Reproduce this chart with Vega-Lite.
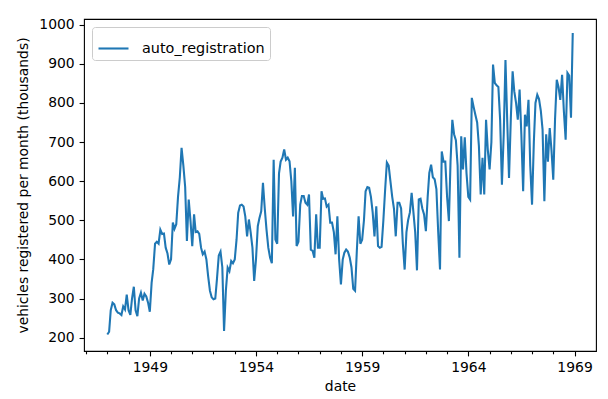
{
  "$schema": "https://vega.github.io/schema/vega-lite/v6.json",
  "autosize": "none",
  "width": 512,
  "height": 332,
  "padding": {"left": 84, "top": 19, "right": 12, "bottom": 48},
  "background": "white",
  "config": {
    "font": "DejaVu Sans",
    "view": {"stroke": "#000000", "strokeWidth": 1.1},
    "axis": {"labelColor": "#000000", "tickColor": "#000000", "titleColor": "#000000", "labelFontSize": 13.9, "titleFontSize": 13.9, "titleFontWeight": "normal", "grid": false, "domain": false, "tickWidth": 1.1}
  },
  "data": {"values": [
    {"date":"1947-01-01","value":208},{"date":"1947-02-01","value":215},{"date":"1947-03-01","value":270},{"date":"1947-04-01","value":289},{"date":"1947-05-01","value":285},{"date":"1947-06-01","value":270},{"date":"1947-07-01","value":264},{"date":"1947-08-01","value":262},{"date":"1947-09-01","value":258},{"date":"1947-10-01","value":280},{"date":"1947-11-01","value":272},{"date":"1947-12-01","value":310},
    {"date":"1948-01-01","value":270},{"date":"1948-02-01","value":258},{"date":"1948-03-01","value":300},{"date":"1948-04-01","value":330},{"date":"1948-05-01","value":270},{"date":"1948-06-01","value":255},{"date":"1948-07-01","value":300},{"date":"1948-08-01","value":315},{"date":"1948-09-01","value":295},{"date":"1948-10-01","value":312},{"date":"1948-11-01","value":305},{"date":"1948-12-01","value":290},
    {"date":"1949-01-01","value":266},{"date":"1949-02-01","value":340},{"date":"1949-03-01","value":375},{"date":"1949-04-01","value":440},{"date":"1949-05-01","value":445},{"date":"1949-06-01","value":440},{"date":"1949-07-01","value":476},{"date":"1949-08-01","value":465},{"date":"1949-09-01","value":466},{"date":"1949-10-01","value":430},{"date":"1949-11-01","value":415},{"date":"1949-12-01","value":387},
    {"date":"1950-01-01","value":400},{"date":"1950-02-01","value":494},{"date":"1950-03-01","value":478},{"date":"1950-04-01","value":490},{"date":"1950-05-01","value":560},{"date":"1950-06-01","value":610},{"date":"1950-07-01","value":685},{"date":"1950-08-01","value":640},{"date":"1950-09-01","value":585},{"date":"1950-10-01","value":447},{"date":"1950-11-01","value":553},{"date":"1950-12-01","value":500},
    {"date":"1951-01-01","value":434},{"date":"1951-02-01","value":515},{"date":"1951-03-01","value":470},{"date":"1951-04-01","value":472},{"date":"1951-05-01","value":465},{"date":"1951-06-01","value":430},{"date":"1951-07-01","value":413},{"date":"1951-08-01","value":420},{"date":"1951-09-01","value":400},{"date":"1951-10-01","value":357},{"date":"1951-11-01","value":320},{"date":"1951-12-01","value":303},
    {"date":"1952-01-01","value":298},{"date":"1952-02-01","value":300},{"date":"1952-03-01","value":350},{"date":"1952-04-01","value":410},{"date":"1952-05-01","value":420},{"date":"1952-06-01","value":380},{"date":"1952-07-01","value":217},{"date":"1952-08-01","value":320},{"date":"1952-09-01","value":379},{"date":"1952-10-01","value":370},{"date":"1952-11-01","value":396},{"date":"1952-12-01","value":390},
    {"date":"1953-01-01","value":400},{"date":"1953-02-01","value":451},{"date":"1953-03-01","value":519},{"date":"1953-04-01","value":538},{"date":"1953-05-01","value":540},{"date":"1953-06-01","value":535},{"date":"1953-07-01","value":510},{"date":"1953-08-01","value":459},{"date":"1953-09-01","value":502},{"date":"1953-10-01","value":470},{"date":"1953-11-01","value":430},{"date":"1953-12-01","value":345},
    {"date":"1954-01-01","value":400},{"date":"1954-02-01","value":485},{"date":"1954-03-01","value":505},{"date":"1954-04-01","value":523},{"date":"1954-05-01","value":596},{"date":"1954-06-01","value":530},{"date":"1954-07-01","value":476},{"date":"1954-08-01","value":430},{"date":"1954-09-01","value":404},{"date":"1954-10-01","value":390},{"date":"1954-11-01","value":655},{"date":"1954-12-01","value":451},
    {"date":"1955-01-01","value":440},{"date":"1955-02-01","value":620},{"date":"1955-03-01","value":650},{"date":"1955-04-01","value":660},{"date":"1955-05-01","value":681},{"date":"1955-06-01","value":655},{"date":"1955-07-01","value":660},{"date":"1955-08-01","value":651},{"date":"1955-09-01","value":600},{"date":"1955-10-01","value":510},{"date":"1955-11-01","value":634},{"date":"1955-12-01","value":434},
    {"date":"1956-01-01","value":445},{"date":"1956-02-01","value":540},{"date":"1956-03-01","value":562},{"date":"1956-04-01","value":562},{"date":"1956-05-01","value":545},{"date":"1956-06-01","value":540},{"date":"1956-07-01","value":566},{"date":"1956-08-01","value":425},{"date":"1956-09-01","value":422},{"date":"1956-10-01","value":404},{"date":"1956-11-01","value":515},{"date":"1956-12-01","value":430},
    {"date":"1957-01-01","value":430},{"date":"1957-02-01","value":574},{"date":"1957-03-01","value":555},{"date":"1957-04-01","value":556},{"date":"1957-05-01","value":535},{"date":"1957-06-01","value":540},{"date":"1957-07-01","value":494},{"date":"1957-08-01","value":494},{"date":"1957-09-01","value":470},{"date":"1957-10-01","value":413},{"date":"1957-11-01","value":510},{"date":"1957-12-01","value":400},
    {"date":"1958-01-01","value":336},{"date":"1958-02-01","value":400},{"date":"1958-03-01","value":417},{"date":"1958-04-01","value":425},{"date":"1958-05-01","value":420},{"date":"1958-06-01","value":405},{"date":"1958-07-01","value":380},{"date":"1958-08-01","value":325},{"date":"1958-09-01","value":320},{"date":"1958-10-01","value":420},{"date":"1958-11-01","value":510},{"date":"1958-12-01","value":440},
    {"date":"1959-01-01","value":450},{"date":"1959-02-01","value":500},{"date":"1959-03-01","value":574},{"date":"1959-04-01","value":585},{"date":"1959-05-01","value":583},{"date":"1959-06-01","value":560},{"date":"1959-07-01","value":520},{"date":"1959-08-01","value":459},{"date":"1959-09-01","value":536},{"date":"1959-10-01","value":434},{"date":"1959-11-01","value":430},{"date":"1959-12-01","value":432},
    {"date":"1960-01-01","value":500},{"date":"1960-02-01","value":580},{"date":"1960-03-01","value":648},{"date":"1960-04-01","value":640},{"date":"1960-05-01","value":600},{"date":"1960-06-01","value":560},{"date":"1960-07-01","value":530},{"date":"1960-08-01","value":459},{"date":"1960-09-01","value":545},{"date":"1960-10-01","value":545},{"date":"1960-11-01","value":530},{"date":"1960-12-01","value":440},
    {"date":"1961-01-01","value":374},{"date":"1961-02-01","value":470},{"date":"1961-03-01","value":500},{"date":"1961-04-01","value":520},{"date":"1961-05-01","value":570},{"date":"1961-06-01","value":520},{"date":"1961-07-01","value":470},{"date":"1961-08-01","value":372},{"date":"1961-09-01","value":553},{"date":"1961-10-01","value":555},{"date":"1961-11-01","value":530},{"date":"1961-12-01","value":515},
    {"date":"1962-01-01","value":472},{"date":"1962-02-01","value":560},{"date":"1962-03-01","value":621},{"date":"1962-04-01","value":642},{"date":"1962-05-01","value":610},{"date":"1962-06-01","value":605},{"date":"1962-07-01","value":580},{"date":"1962-08-01","value":470},{"date":"1962-09-01","value":374},{"date":"1962-10-01","value":676},{"date":"1962-11-01","value":650},{"date":"1962-12-01","value":650},
    {"date":"1963-01-01","value":560},{"date":"1963-02-01","value":498},{"date":"1963-03-01","value":650},{"date":"1963-04-01","value":757},{"date":"1963-05-01","value":720},{"date":"1963-06-01","value":705},{"date":"1963-07-01","value":640},{"date":"1963-08-01","value":404},{"date":"1963-09-01","value":715},{"date":"1963-10-01","value":630},{"date":"1963-11-01","value":712},{"date":"1963-12-01","value":620},
    {"date":"1964-01-01","value":560},{"date":"1964-02-01","value":553},{"date":"1964-03-01","value":813},{"date":"1964-04-01","value":790},{"date":"1964-05-01","value":770},{"date":"1964-06-01","value":750},{"date":"1964-07-01","value":690},{"date":"1964-08-01","value":566},{"date":"1964-09-01","value":660},{"date":"1964-10-01","value":566},{"date":"1964-11-01","value":757},{"date":"1964-12-01","value":680},
    {"date":"1965-01-01","value":630},{"date":"1965-02-01","value":700},{"date":"1965-03-01","value":898},{"date":"1965-04-01","value":851},{"date":"1965-05-01","value":845},{"date":"1965-06-01","value":841},{"date":"1965-07-01","value":757},{"date":"1965-08-01","value":591},{"date":"1965-09-01","value":720},{"date":"1965-10-01","value":910},{"date":"1965-11-01","value":750},{"date":"1965-12-01","value":608},
    {"date":"1966-01-01","value":760},{"date":"1966-02-01","value":881},{"date":"1966-03-01","value":830},{"date":"1966-04-01","value":800},{"date":"1966-05-01","value":757},{"date":"1966-06-01","value":834},{"date":"1966-07-01","value":720},{"date":"1966-08-01","value":574},{"date":"1966-09-01","value":770},{"date":"1966-10-01","value":740},{"date":"1966-11-01","value":808},{"date":"1966-12-01","value":640},
    {"date":"1967-01-01","value":540},{"date":"1967-02-01","value":700},{"date":"1967-03-01","value":800},{"date":"1967-04-01","value":821},{"date":"1967-05-01","value":810},{"date":"1967-06-01","value":780},{"date":"1967-07-01","value":732},{"date":"1967-08-01","value":549},{"date":"1967-09-01","value":720},{"date":"1967-10-01","value":650},{"date":"1967-11-01","value":736},{"date":"1967-12-01","value":680},
    {"date":"1968-01-01","value":604},{"date":"1968-02-01","value":760},{"date":"1968-03-01","value":859},{"date":"1968-04-01","value":840},{"date":"1968-05-01","value":808},{"date":"1968-06-01","value":872},{"date":"1968-07-01","value":780},{"date":"1968-08-01","value":706},{"date":"1968-09-01","value":877},{"date":"1968-10-01","value":870},{"date":"1968-11-01","value":762},{"date":"1968-12-01","value":979}
  ]},
  "mark": {"type": "line", "strokeWidth": 2.08, "clip": true},
  "encoding": {
    "x": {
      "field": "date", "type": "temporal",
      "scale": {"type": "utc", "domain": [{"year": 1945, "month": 11, "date": 26, "utc": true}, {"year": 1970, "month": 1, "date": 5, "utc": true}], "nice": false},
      "axis": {
        "title": "date",
        "values": [
          {"year":1946,"utc":true},{"year":1947,"utc":true},{"year":1948,"utc":true},{"year":1949,"utc":true},{"year":1950,"utc":true},{"year":1951,"utc":true},{"year":1952,"utc":true},{"year":1953,"utc":true},{"year":1954,"utc":true},{"year":1955,"utc":true},{"year":1956,"utc":true},{"year":1957,"utc":true},{"year":1958,"utc":true},{"year":1959,"utc":true},{"year":1960,"utc":true},{"year":1961,"utc":true},{"year":1962,"utc":true},{"year":1963,"utc":true},{"year":1964,"utc":true},{"year":1965,"utc":true},{"year":1966,"utc":true},{"year":1967,"utc":true},{"year":1968,"utc":true},{"year":1969,"utc":true}
        ],
        "labelExpr": "utcyear(datum.value) % 5 == 4 ? utcFormat(datum.value, '%Y') : ''",
        "labelOverlap": false,
        "tickSize": {"condition": {"test": "utcyear(datum.value) % 5 == 4", "value": 4.9}, "value": 2.8},
        "labelPadding": 4.9,
        "titlePadding": 5
      }
    },
    "y": {
      "field": "value", "type": "quantitative",
      "scale": {"domain": [165.8, 1014.6], "nice": false, "zero": false},
      "axis": {
        "title": "vehicles registered per month (thousands)",
        "values": [200, 300, 400, 500, 600, 700, 800, 900, 1000],
        "format": "d",
        "tickSize": 4.9,
        "labelPadding": 4.9,
        "titlePadding": 8
      }
    },
    "color": {
      "datum": "auto_registration",
      "scale": {"range": ["#1f77b4"]},
      "legend": {
        "title": null,
        "orient": "top-left",
        "offset": 8,
        "strokeColor": "#cccccc",
        "fillColor": "#ffffff",
        "cornerRadius": 3,
        "padding": 5,
        "symbolType": "stroke",
        "symbolSize": 900,
        "symbolStrokeWidth": 2.08,
        "labelFontSize": 14.4,
        "labelColor": "#000000",
        "labelOffset": 12
      }
    }
  }
}
